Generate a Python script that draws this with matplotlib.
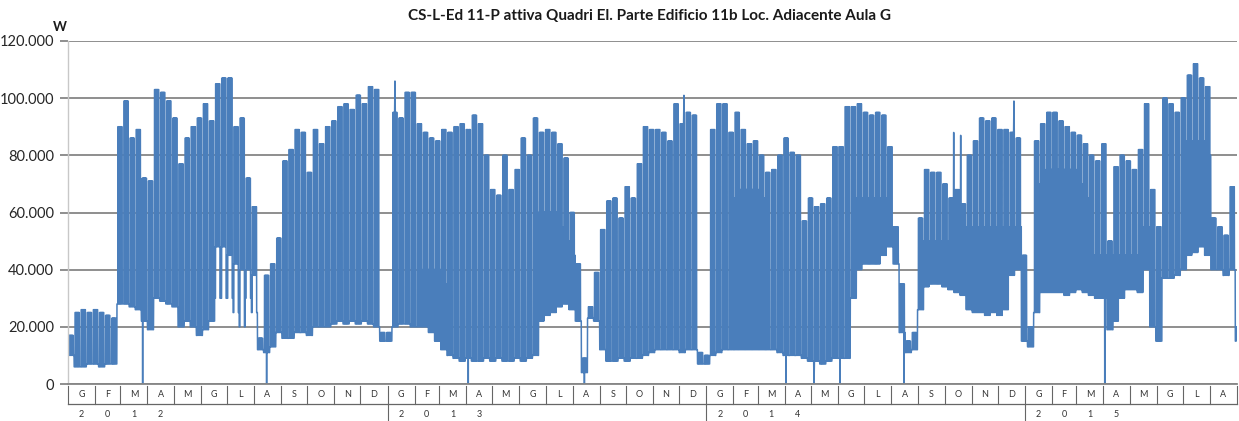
import matplotlib.pyplot as plt
import numpy as np
import pandas as pd

# weekly values in kW, weeks starting 2012-01-01
peak_kw = [17, 25, 26, 25, 26, 25, 24, 23,
           90, 99, 86, 89, 72, 71, 103, 102,
           99, 93, 77, 86, 90, 93, 98, 92,
           105, 107, 107, 90, 93, 72, 62, 16,
           38, 42, 51, 78, 82, 89, 88, 74,
           89, 84, 90, 92, 97, 98, 96, 101,
           98, 104, 103, 18, 18, 95, 93, 102,
           102, 91, 88, 86, 85, 89, 88, 90,
           91, 89, 94, 91, 80, 68, 66, 80,
           68, 75, 86, 80, 93, 88, 89, 88,
           84, 79, 60, 42, 9, 27, 39, 54,
           64, 65, 58, 69, 65, 77, 90, 89,
           89, 88, 85, 98, 91, 95, 94, 11,
           10, 89, 98, 98, 88, 95, 89, 84,
           85, 80, 74, 75, 80, 86, 81, 80,
           57, 65, 62, 63, 65, 83, 83, 97,
           97, 98, 95, 94, 95, 94, 83, 55,
           35, 15, 18, 58, 75, 74, 74, 70,
           65, 68, 63, 80, 85, 93, 92, 93,
           89, 89, 88, 86, 45, 20, 85, 91,
           95, 95, 92, 90, 88, 87, 84, 80,
           78, 84, 50, 76, 80, 78, 75, 82,
           98, 68, 55, 100, 98, 95, 100, 108,
           112, 107, 104, 58, 55, 52, 69, 20]

low_kw = [10, 6, 6, 7, 7, 6, 7, 7,
          28, 28, 27, 26, 22, 19, 30, 29,
          28, 27, 20, 22, 20, 17, 19, 22,
          48, 48, 45, 42, 40, 40, 38, 12,
          11, 13, 18, 16, 16, 18, 18, 17,
          20, 20, 20, 21, 22, 21, 22, 21,
          22, 21, 20, 15, 15, 20, 21, 21,
          20, 20, 20, 18, 15, 12, 10, 9,
          8, 9, 8, 8, 9, 8, 9, 8,
          8, 9, 8, 9, 10, 22, 24, 25,
          27, 28, 26, 22, 4, 23, 22, 12,
          8, 8, 9, 8, 9, 9, 10, 11,
          12, 12, 12, 12, 11, 12, 12, 7,
          7, 10, 11, 12, 12, 12, 12, 12,
          12, 12, 12, 12, 11, 10, 10, 10,
          9, 8, 8, 7, 8, 9, 9, 9,
          30, 40, 42, 42, 42, 45, 48, 42,
          18, 11, 12, 26, 34, 35, 35, 34,
          33, 32, 31, 26, 25, 25, 24, 25,
          24, 26, 38, 40, 15, 13, 25, 32,
          32, 32, 32, 31, 32, 33, 32, 31,
          30, 30, 19, 22, 30, 33, 33, 32,
          40, 20, 15, 37, 37, 38, 40, 45,
          46, 48, 45, 40, 40, 38, 40, 15]

wkend_kw = [10, 6, 6, 7, 7, 6, 7, 7,
            28, 28, 27, 26, 22, 19, 30, 29,
            28, 27, 20, 22, 20, 17, 19, 22,
            30, 30, 30, 25, 20, 30, 25, 12,
            11, 13, 18, 16, 16, 18, 18, 17,
            20, 20, 20, 21, 22, 21, 22, 21,
            22, 21, 20, 15, 15, 20, 21, 21,
            20, 20, 40, 40, 40, 35, 10, 9,
            8, 9, 8, 8, 9, 8, 9, 8,
            8, 9, 8, 9, 10, 60, 60, 60,
            55, 50, 45, 22, 4, 23, 22, 12,
            8, 8, 9, 8, 9, 9, 10, 11,
            12, 12, 12, 12, 11, 12, 12, 7,
            7, 10, 11, 12, 12, 65, 68, 68,
            68, 65, 12, 12, 11, 10, 10, 10,
            9, 8, 8, 7, 8, 9, 9, 9,
            30, 65, 65, 65, 65, 65, 55, 42,
            18, 11, 12, 26, 50, 50, 50, 50,
            50, 50, 50, 55, 55, 55, 55, 55,
            55, 55, 55, 55, 15, 13, 25, 70,
            75, 75, 75, 75, 75, 70, 65, 45,
            45, 45, 19, 45, 45, 45, 45, 45,
            55, 20, 15, 37, 37, 38, 40, 85,
            85, 85, 80, 40, 40, 38, 40, 15]

# isolated spikes: day index from 2012-01-01, value in W
spike_day = [85, 227, 458, 591, 822, 854, 884, 957, 1187, 374, 705, 1014, 1022, 1083]
spike_w = [0, 0, 0, 0, 0, 0, 0, 0, 0, 106000, 101000, 88000, 87000, 99000]

months_it = ['G', 'F', 'M', 'A', 'M', 'G', 'L', 'A', 'S', 'O', 'N', 'D']
years = [2012, 2013, 2014, 2015]
title = 'CS-L-Ed 11-P attiva Quadri El. Parte Edificio 11b Loc. Adiacente Aula G'

start = pd.Timestamp('2012-01-01')
dates = pd.date_range(start, '2015-08-31', freq='D')
n = len(dates)
wk = np.arange(n) // 7
dow = dates.dayofweek.values
peak = np.array(peak_kw) * 1000.0
low = np.array(low_kw) * 1000.0
wkend = np.array(wkend_kw) * 1000.0
hi = np.where(dow < 5, peak[wk], wkend[wk])

# each day: night low, then the day's high held over most of the day
t = np.repeat(np.arange(n), 3) + np.tile([0.0, 0.1, 0.9], n)
v = np.column_stack([low[wk], hi, hi]).ravel()
t = np.concatenate([t, np.array(spike_day) + 0.5])
v = np.concatenate([v, spike_w])
order = np.argsort(t, kind='stable')
t, v = t[order], v[order]

plt.rcParams['font.family'] = ['Lato', 'DejaVu Sans']
fig = plt.figure(figsize=(12.39, 4.21), dpi=100)
ax = fig.add_axes([68/1239, 37/421, 1169/1239, 343/421])
ax.plot(t, v, color='#4a7ebb', lw=1.1)
ax.set_xlim(0, n)
ax.set_ylim(0, 120000)

yt = np.arange(0, 120001, 20000)
ax.set_yticks(yt)
ax.set_yticklabels(['{:,}'.format(y).replace(',', '.') for y in yt], fontsize=10.5, color='#262626')
ax.yaxis.grid(True, color='#868686', lw=1.3)
ax.set_axisbelow(True)
ax.tick_params(axis='y', length=6, width=1.3, color='#868686', pad=4)
ax.tick_params(axis='x', length=0, labelbottom=False)
for s in ['top', 'right']:
    ax.spines[s].set_visible(False)
ax.spines['bottom'].set_color('#868686')
ax.spines['bottom'].set_linewidth(1.3)
ax.spines['left'].set_color('#c8c8c8')
ax.spines['left'].set_linewidth(1)

# category axis: months and years
mstarts = pd.date_range(start, '2015-09-01', freq='MS')
mpos = np.array((mstarts - start).days)
tr = ax.get_xaxis_transform()
for i in range(len(mpos) - 1):
    c = (mpos[i] + mpos[i + 1]) / 2
    ax.text(c, -0.032, months_it[mstarts[i].month - 1], transform=tr, ha='center', va='center',
            fontsize=6.5, color='#333333')
for p in mpos:
    ax.plot([p, p], [-0.006, -0.058], transform=tr, color='#666666', lw=0.8, clip_on=False)
ax.plot([0, n], [-0.058, -0.058], transform=tr, color='#666666', lw=0.9, clip_on=False)
for yr in years:
    j = (yr - 2012) * 12
    if yr > 2012:
        ax.plot([mpos[j], mpos[j]], [-0.058, -0.11], transform=tr, color='#666666', lw=0.8, clip_on=False)
    for k, ch in enumerate(str(yr)):
        c = (mpos[j + k] + mpos[j + k + 1]) / 2
        ax.text(c, -0.09, ch, transform=tr, ha='center', va='center', fontsize=6.5, color='#333333')

fig.text(649/1239, 1 - 16/421, title, ha='center', va='center', fontsize=11, fontweight='bold', color='#1a1a1a')
fig.text(60/1239, 1 - 27/421, 'W', ha='center', va='center', fontsize=9.5, fontweight='bold', color='#1a1a1a')

fig.savefig('out.png', dpi=100)
